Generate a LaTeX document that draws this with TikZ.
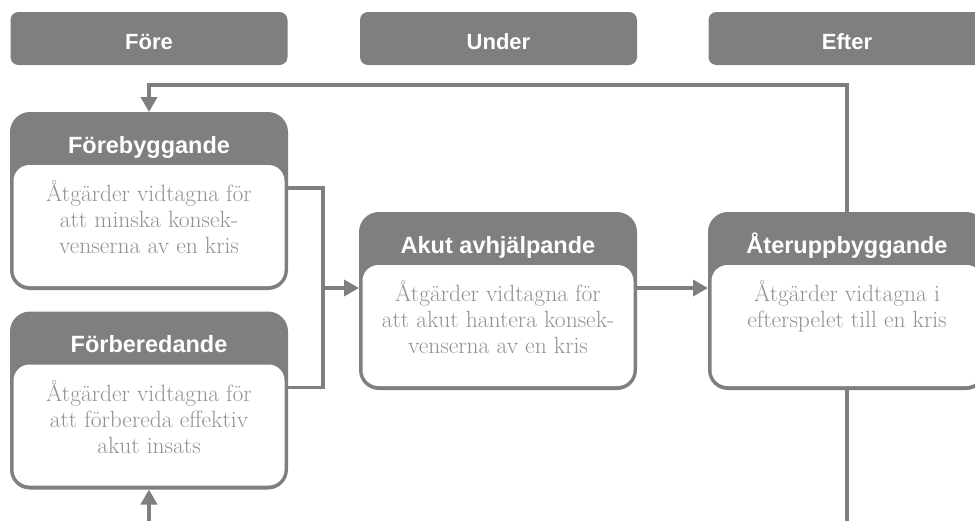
\documentclass[tikz,border=0pt]{standalone}
\usepackage{fontspec}
\newfontfamily\headfont{Liberation Sans}
\usetikzlibrary{arrows.meta}
\definecolor{boxgray}{RGB}{127,127,127}
\definecolor{bodygray}{RGB}{145,145,145}

\begin{document}
\begin{tikzpicture}[x=1pt,y=-1pt,
  phase/.style={fill=boxgray, rounded corners=8pt, minimum width=277pt,
    minimum height=53pt, inner sep=0pt, outer sep=0pt},
  phaselabel/.style={anchor=base, text=white, inner sep=0pt,
    font=\headfont\bfseries\fontsize{22}{26}\selectfont},
  stage/.style={fill=boxgray, rounded corners=20pt, minimum width=278pt,
    minimum height=178pt, inner sep=0pt, outer sep=0pt},
  stageinner/.style={fill=white, rounded corners=16pt, minimum width=271pt,
    minimum height=121pt, inner sep=0pt, outer sep=0pt, anchor=south},
  stagetitle/.style={anchor=base, text=white, inner sep=0pt,
    font=\headfont\bfseries\fontsize{23.5}{28}\selectfont},
  stagetext/.style={anchor=north, text=bodygray, inner sep=0pt, align=center,
    font=\fontsize{23.5}{26}\selectfont},
  conn/.style={draw=boxgray, line width=3.5pt},
  arr/.style={conn, -{Triangle[width=16pt,length=15pt]}},
]
\useasboundingbox (0,0) rectangle (975,520);
\clip (0,0) rectangle (975,520);

% phase headers
\node[phase] (pfore)  at (149,38.5) {};
\node[phase] (punder) at (498.5,38.5) {};
\node[phase] (pefter) at (847,38.5) {};
\node[phaselabel] (lfore)  at ([yshift=-10.5pt]pfore.center)  {Före};
\node[phaselabel] (lunder) at ([yshift=-10.5pt]punder.center) {Under};
\node[phaselabel] (lefter) at ([yshift=-10.5pt]pefter.center) {Efter};

% stages
\node[stage] (fb) at (149,201) {};
\node[stage] (fp) at (149,400.5) {};
\node[stage] (ak) at (498,301) {};
\node[stage] (at) at (847,301) {};

\foreach \s in {fb,fp,ak,at}{
  \node[stageinner] (\s in) at ([yshift=4pt]\s.south) {};
}

\node[stagetitle] (fbt) at ([yshift=-41pt]fb.north) {Förebyggande};
\node[stagetitle] (fpt) at ([yshift=-41pt]fp.north) {Förberedande};
\node[stagetitle] (akt) at ([yshift=-41pt]ak.north) {Akut avhjälpande};
\node[stagetitle] (att) at ([yshift=-41pt]at.north) {Återuppbyggande};

\node[stagetext] (fbx) at ([yshift=-69pt]fb.north)
  {Åtgärder vidtagna för\\att minska konsek-\\venserna av en kris};
\node[stagetext] (fpx) at ([yshift=-69pt]fp.north)
  {Åtgärder vidtagna för\\att förbereda effektiv\\akut insats};
\node[stagetext] (akx) at ([yshift=-69pt]ak.north)
  {Åtgärder vidtagna för\\att akut hantera konsek-\\venserna av en kris};
\node[stagetext] (atx) at ([yshift=-69pt]at.north)
  {Åtgärder vidtagna i\\efterspelet till en kris};

% connectors
\coordinate (j) at (323,288);
\coordinate (toprow) at (0,85);
\coordinate (botrow) at (0,560);
\draw[conn] ([yshift=-76pt]fb.north east) -| (j) |- ([yshift=-76pt]fp.north east);
\draw[arr] (j) -- ([yshift=-76pt]ak.north west);
\draw[arr] ([yshift=-76pt]ak.north east) -- ([yshift=-76pt]at.north west);
\draw[arr] (at.north) -- (at.north |- toprow) -| (fb.north);
\draw[arr] (at.south) -- (at.south |- botrow) -| (fp.south);
\end{tikzpicture}
\end{document}
